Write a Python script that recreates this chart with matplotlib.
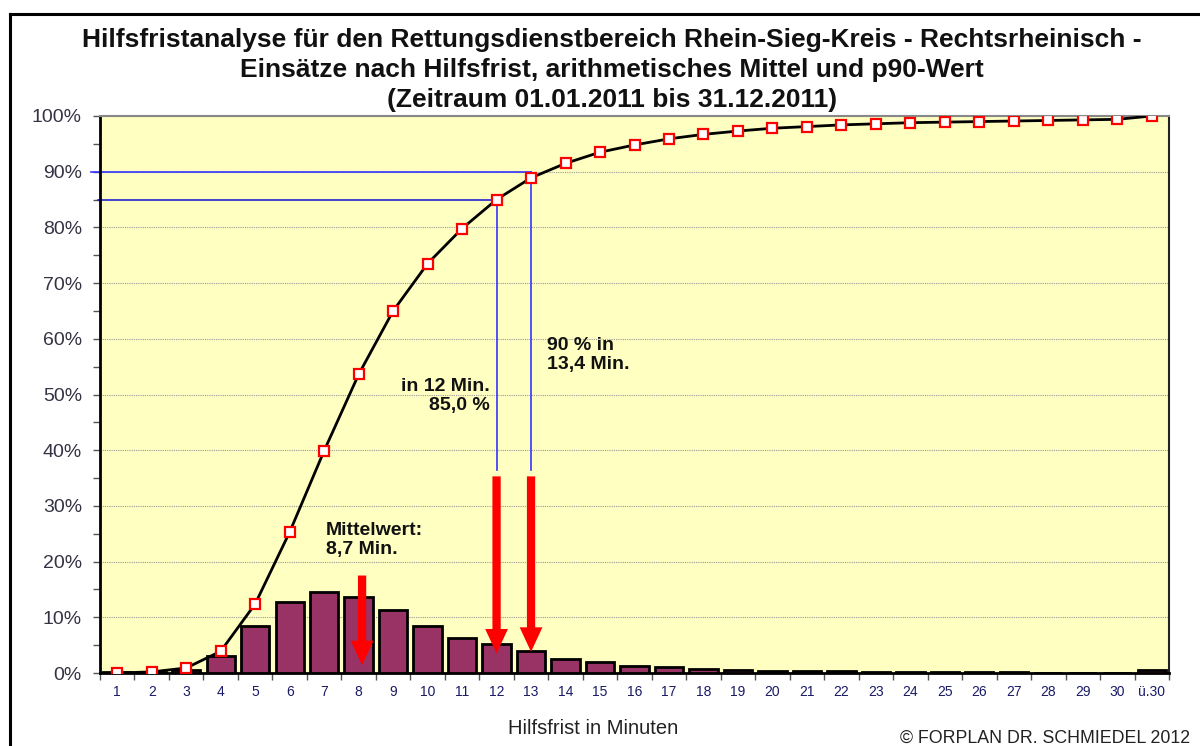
import numpy as np
import matplotlib
matplotlib.use("Agg")
import matplotlib.pyplot as plt

plt.rcParams['font.family'] = ['Liberation Sans', 'DejaVu Sans']

# Kategorien (Hilfsfrist in Minuten)
kategorien = [str(i) for i in range(1, 31)] + ['ü.30']

# Anteil der Einsätze je Minute (%)
anteil = [0.1, 0.2, 0.6, 3.0, 8.5, 12.8, 14.6, 13.7, 11.3, 8.5,
          6.3, 5.2, 3.9, 2.6, 2.0, 1.3, 1.0, 0.7, 0.6, 0.4,
          0.3, 0.3, 0.25, 0.2, 0.15, 0.12, 0.1, 0.08, 0.07, 0.06, 0.6]

# kumulierter Anteil (%)
kumuliert = [0.0, 0.2, 0.9, 3.9, 12.4, 25.3, 39.9, 53.6, 65.0, 73.5,
             79.8, 85.0, 88.9, 91.5, 93.5, 94.8, 95.9, 96.7, 97.3, 97.8,
             98.1, 98.4, 98.6, 98.8, 98.9, 99.0, 99.1, 99.2, 99.3, 99.4, 100.0]

mittel_min = 8
p85_min, p85_wert = 12, 85.0
p90_min, p90_wert = 13, 90.0

x = np.arange(1, len(kategorien) + 1)

fig = plt.figure(figsize=(12, 7.46), dpi=100)
ax = fig.add_axes([100/1200, 73/746, 1069/1200, 557/746])
ax.set_facecolor('#FFFFC2')

# Rahmen um die Grafik
fig.add_artist(plt.Line2D([10/1200, 10/1200], [0, 732/746], color='black', lw=2.2,
                          transform=fig.transFigure))
fig.add_artist(plt.Line2D([10/1200, 1], [732/746, 732/746], color='black', lw=2.2,
                          transform=fig.transFigure))

ax.bar(x, anteil, width=0.82, color='#993366', edgecolor='black', linewidth=2, zorder=3)
ax.plot(x, kumuliert, color='black', lw=2, zorder=4,
        marker='s', markersize=6.5, markerfacecolor='white',
        markeredgecolor='red', markeredgewidth=1.6)

# p85 / p90 Linien
ax.plot([0.24, p90_min], [p90_wert, p90_wert], color='#3333ff', lw=1.2, clip_on=False, zorder=2)
ax.plot([0.45, p85_min], [p85_wert, p85_wert], color='#2222cc', lw=1.2, clip_on=False, zorder=2)
ax.plot([p85_min, p85_min], [p85_wert, 36.5], color='#3333ff', lw=1.2, zorder=2)
ax.plot([p90_min, p90_min], [p90_wert, 36.5], color='#3333ff', lw=1.2, zorder=2)

# rote Pfeile
for xa, y0, y1 in [(p85_min, 35.3, 3.5), (p90_min, 35.3, 3.8), (mittel_min + 0.1, 17.5, 1.4)]:
    ax.arrow(xa, y0, 0, y1 - y0, width=0.24, head_width=0.66, head_length=4.4,
             length_includes_head=True, color='red', lw=0, zorder=6)

ax.text(11.8, 49.8, 'in 12 Min.\n85,0 %', ha='right', va='center', fontsize=14,
        fontweight='bold', linespacing=1.15, zorder=7, color='#111111')
ax.text(13.45, 57.1, '90 % in\n13,4 Min.', ha='left', va='center', fontsize=14,
        fontweight='bold', linespacing=1.15, zorder=7, color='#111111')
ax.text(7.05, 23.9, 'Mittelwert:\n8,7 Min.', ha='left', va='center', fontsize=14,
        fontweight='bold', linespacing=1.15, zorder=7, color='#111111')

ax.set_xlim(0.5, len(kategorien) + 0.5)
ax.set_ylim(0, 100)
ax.set_yticks(np.arange(0, 101, 10))
ax.set_yticks(np.arange(5, 100, 10), minor=True)
ax.set_yticklabels([f'{v}%' for v in range(0, 101, 10)], fontsize=14, color='#333344')
ax.set_xticks(x)
ax.set_xticklabels(kategorien, fontsize=10, color='#1a1a66')
ax.set_xticks(np.arange(0.5, len(kategorien) + 1, 1), minor=True)
ax.tick_params(axis='x', which='major', length=0, pad=9)
ax.tick_params(axis='x', which='minor', length=5, color='#555555', width=1)
ax.tick_params(axis='y', which='both', length=5, color='#555555', width=1)
ax.tick_params(axis='y', which='major', pad=8)
ax.grid(axis='y', which='major', color='#999999', linestyle=(0, (1, 1)), lw=0.8, zorder=1)

for s in ['left', 'bottom']:
    ax.spines[s].set_color('black')
    ax.spines[s].set_linewidth(2)
ax.spines['top'].set_color('#888888')
ax.spines['top'].set_linewidth(1.5)
ax.spines['right'].set_color('#222222')
ax.spines['right'].set_linewidth(1.5)

fig.text(0.51, 1 - 70/746, 'Hilfsfristanalyse für den Rettungsdienstbereich Rhein-Sieg-Kreis - Rechtsrheinisch -\n'
         'Einsätze nach Hilfsfrist, arithmetisches Mittel und p90-Wert\n'
         '(Zeitraum 01.01.2011 bis 31.12.2011)',
         ha='center', va='center', fontsize=19, fontweight='bold', linespacing=1.3,
         color='#111111')

fig.text(593/1200, 1 - 728/746, 'Hilfsfrist in Minuten', ha='center', va='center', fontsize=14.5, color='#222222')
fig.text(1190/1200, 1 - 738/746, '© FORPLAN DR. SCHMIEDEL 2012', ha='right', va='center',
         fontsize=12.8, color='#222222')

fig.savefig('out.png', dpi=100)
